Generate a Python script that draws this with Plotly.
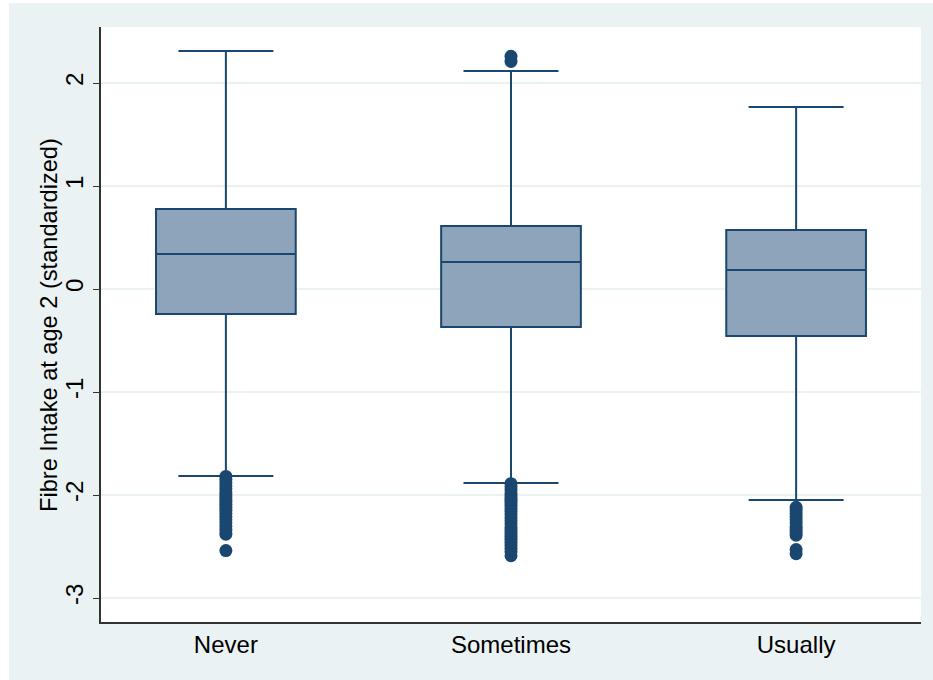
import plotly.graph_objects as go

categories = ["Never", "Sometimes", "Usually"]
q1 = [-0.243, -0.369, -0.456]
median = [0.340, 0.262, 0.184]
q3 = [0.777, 0.612, 0.573]
lower_whisker = [-1.816, -1.883, -2.049]
upper_whisker = [2.311, 2.117, 1.767]

outliers_never = [-1.82, -1.85, -1.88, -1.91, -1.94, -1.97, -2.00, -2.03, -2.06, -2.09,
                  -2.12, -2.15, -2.18, -2.21, -2.24, -2.27, -2.30, -2.34, -2.38, -2.54]
outliers_sometimes = [2.21, 2.26,
                      -1.89, -1.92, -1.95, -1.98, -2.01, -2.04, -2.07, -2.10, -2.13,
                      -2.16, -2.19, -2.22, -2.25, -2.28, -2.31, -2.34, -2.37, -2.40,
                      -2.43, -2.46, -2.49, -2.52, -2.55, -2.59]
outliers_usually = [-2.12, -2.15, -2.18, -2.21, -2.24, -2.27, -2.30, -2.33, -2.36, -2.39,
                    -2.53, -2.57]

y_ticks = [-3, -2, -1, 0, 1, 2]
y_title = "Fibre Intake at age 2 (standardized)"

NAVY = "#1A476F"
FILL = "#8DA4BA"
BG = "#EAF2F3"
FONT = "Liberation Sans, Arial, sans-serif"

fig = go.Figure()
fig.add_trace(go.Box(
    x=categories, q1=q1, median=median, q3=q3,
    lowerfence=lower_whisker, upperfence=upper_whisker,
    fillcolor=FILL, line=dict(color=NAVY, width=2),
    width=0.49, whiskerwidth=0.68, boxpoints=False,
    showlegend=False, hoverinfo="skip",
))

out_x = ([categories[0]] * len(outliers_never) + [categories[1]] * len(outliers_sometimes)
         + [categories[2]] * len(outliers_usually))
out_y = outliers_never + outliers_sometimes + outliers_usually
fig.add_trace(go.Scatter(
    x=out_x, y=out_y, mode="markers",
    marker=dict(color=NAVY, size=13, line=dict(width=0)),
    showlegend=False, hoverinfo="skip",
))

W, H = 933, 680
ml, mr, mt, mb = 101, 12, 27, 58
pw, ph = W - ml - mr, H - mt - mb

fig.update_layout(
    width=W, height=H,
    margin=dict(l=ml, r=mr, t=mt, b=mb, pad=0),
    paper_bgcolor=BG, plot_bgcolor="white",
    font=dict(family=FONT, size=24, color="black"),
    shapes=[
        dict(type="rect", xref="paper", yref="paper", layer="below",
             x0=-ml / pw, x1=(-ml + 9) / pw, y0=-mb / ph, y1=(ph + mt) / ph,
             fillcolor="white", line=dict(width=0)),
        dict(type="rect", xref="paper", yref="paper", layer="below",
             x0=-ml / pw, x1=(pw + mr) / pw, y0=(ph + mt - 3) / ph, y1=(ph + mt) / ph,
             fillcolor="white", line=dict(width=0)),
    ],
    annotations=[
        dict(text=y_title, xref="paper", yref="paper",
             x=(49 - ml) / pw, y=(622 - 325) / ph, xanchor="center", yanchor="middle",
             textangle=-90, showarrow=False, font=dict(size=23.6)),
    ],
)
fig.update_xaxes(
    type="category", range=[-0.438, 2.438],
    showline=True, linecolor="#333333", linewidth=2, mirror=False,
    showgrid=False, ticks="", tickfont=dict(size=24),
    zeroline=False,
)
fig.update_yaxes(
    range=[-3.233, 2.544], tickvals=y_ticks, ticktext=[str(v) for v in y_ticks],
    tickangle=-90, ticks="outside", ticklen=6, tickcolor="#333333",
    showline=True, linecolor="#333333", linewidth=2,
    showgrid=True, gridcolor=BG, gridwidth=2, zeroline=False,
    tickfont=dict(size=24),
)

fig.write_html("out.html", config={"displayModeBar": False},
               post_script="document.body.style.margin='0';document.body.style.overflow='hidden';")
